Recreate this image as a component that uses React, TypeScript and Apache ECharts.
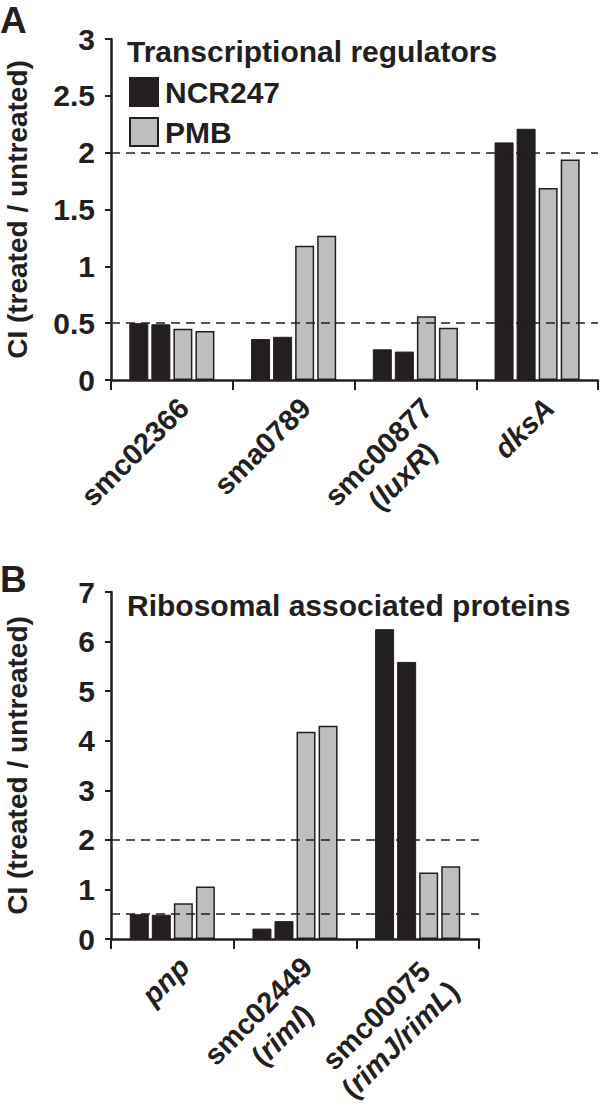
import React, { useEffect, useRef } from "react";
import * as echarts from "echarts";

const categoriesA = ["smc02366", "sma0789", "smc00877\n(luxR)", "dksA"];
const ncrA1 = [0.5, 0.36, 0.27, 2.09];
const ncrA2 = [0.49, 0.38, 0.25, 2.21];
const pmbA1 = [0.45, 1.18, 0.56, 1.69];
const pmbA2 = [0.43, 1.27, 0.46, 1.94];

const categoriesB = ["pnp", "smc02449\n(rimI)", "smc00075\n(rimJ/rimL)"];
const ncrB1 = [0.5, 0.21, 6.25];
const ncrB2 = [0.49, 0.36, 5.59];
const pmbB1 = [0.72, 4.18, 1.34];
const pmbB2 = [1.06, 4.3, 1.47];

const thresholds = [0.5, 2];
const yTitle = "CI (treated / untreated)";
const titleA = "Transcriptional regulators";
const titleB = "Ribosomal associated proteins";
const legendNames = ["NCR247", "PMB"];

const INK = "#231f20";
const GRAY = "#bcbec0";
const FONT = "'Liberation Sans', Arial, Helvetica, sans-serif";

function richLabel(value: string): string {
  return value
    .split("\n")
    .map((line) => {
      if (line.startsWith("(") && line.endsWith(")")) {
        return "{p|(}{i|" + line.slice(1, -1) + "}{p|)}";
      }
      if (/^sm[ac]\d/.test(line)) return "{u|" + line + "}";
      return "{i|" + line + "}";
    })
    .join("\n");
}

const richStyles = {
  u: { fontSize: 29, fontWeight: "bold", fontFamily: FONT, color: INK, lineHeight: 34, align: "center" },
  i: { fontSize: 29, fontWeight: "bold", fontStyle: "italic", fontFamily: FONT, color: INK, lineHeight: 34, align: "center" },
  p: { fontSize: 29, fontWeight: "bold", fontFamily: FONT, color: INK, lineHeight: 34, align: "center" },
};

function xAxisFor(gridIndex: number, data: string[]) {
  return {
    type: "category",
    gridIndex,
    data,
    axisLine: { lineStyle: { color: INK, width: 2.5 } },
    axisTick: { show: true, length: 10, lineStyle: { color: INK, width: 2 } },
    axisLabel: {
      rotate: 45,
      margin: 11,
      align: "right",
      verticalAlign: "top",
      interval: 0,
      hideOverlap: false,
      formatter: (v: string) => richLabel(v),
      rich: richStyles,
    },
  };
}

function yAxisFor(gridIndex: number, max: number, interval: number) {
  return {
    type: "value",
    gridIndex,
    min: 0,
    max,
    interval,
    name: yTitle,
    nameLocation: "middle",
    nameGap: 80,
    nameTextStyle: { fontSize: 28, fontWeight: "bold", fontFamily: FONT, color: INK },
    axisLine: { show: true, lineStyle: { color: INK, width: 2.5 } },
    axisTick: { show: true, length: 6, lineStyle: { color: INK, width: 2 } },
    axisLabel: { margin: 16, fontSize: 30, fontWeight: "bold", fontFamily: FONT, color: INK },
    splitLine: { show: false },
  };
}

function barSeries(name: string, data: number[], idx: number, dark: boolean, withLines: boolean) {
  const s: any = {
    type: "bar",
    name,
    data,
    xAxisIndex: idx,
    yAxisIndex: idx,
    barWidth: 19,
    barGap: "16%",
    itemStyle: dark
      ? { color: INK, borderColor: INK, borderWidth: 1 }
      : { color: GRAY, borderColor: INK, borderWidth: 1.5 },
  };
  if (withLines) {
    s.markLine = {
      silent: true,
      symbol: ["none", "none"],
      label: { show: false },
      lineStyle: { color: INK, type: [9, 6], width: 1.5 },
      data: thresholds.map((t) => ({ yAxis: t })),
    };
  }
  return s;
}

export default function App() {
  const ref = useRef<HTMLDivElement>(null);
  useEffect(() => {
    if (!ref.current) return;
    const chart = echarts.init(ref.current, null, { renderer: "svg" });
    chart.setOption({
      animation: false,
      backgroundColor: "#ffffff",
      title: [
        {
          text: titleA,
          left: 122,
          top: 31,
          textStyle: { fontSize: 30, fontWeight: "bold", fontFamily: FONT, color: INK },
        },
        {
          text: titleB,
          left: 122,
          top: 585,
          textStyle: { fontSize: 30, fontWeight: "bold", fontFamily: FONT, color: INK },
        },
      ],
      legend: {
        data: legendNames,
        orient: "vertical",
        left: 124,
        top: 72,
        itemWidth: 28,
        itemHeight: 28,
        itemGap: 10,
        icon: "rect",
        selectedMode: false,
        textStyle: { fontSize: 30, fontWeight: "bold", fontFamily: FONT, color: INK, padding: [0, 0, 0, 2] },
      },
      graphic: [
        { type: "text", left: 0, top: 2, style: { text: "A", fontSize: 37, fontWeight: "bold", fontFamily: FONT, fill: INK } },
        { type: "text", left: 0, top: 561, style: { text: "B", fontSize: 37, fontWeight: "bold", fontFamily: FONT, fill: INK } },
      ],
      grid: [
        { left: 111, top: 39, width: 487, height: 341, outerBoundsMode: "none", containLabel: false },
        { left: 111, top: 592, width: 368, height: 347, outerBoundsMode: "none", containLabel: false },
      ],
      xAxis: [xAxisFor(0, categoriesA), xAxisFor(1, categoriesB)],
      yAxis: [yAxisFor(0, 3, 0.5), yAxisFor(1, 7, 1)],
      series: [
        barSeries("NCR247", ncrA1, 0, true, true),
        barSeries("NCR247", ncrA2, 0, true, false),
        barSeries("PMB", pmbA1, 0, false, false),
        barSeries("PMB", pmbA2, 0, false, false),
        barSeries("NCR247", ncrB1, 1, true, true),
        barSeries("NCR247", ncrB2, 1, true, false),
        barSeries("PMB", pmbB1, 1, false, false),
        barSeries("PMB", pmbB2, 1, false, false),
      ],
    });
    return () => chart.dispose();
  }, []);
  return (
    <div
      ref={ref}
      style={{ position: "absolute", left: 0, top: 0, width: 601, height: 1108, background: "#fff" }}
    />
  );
}
